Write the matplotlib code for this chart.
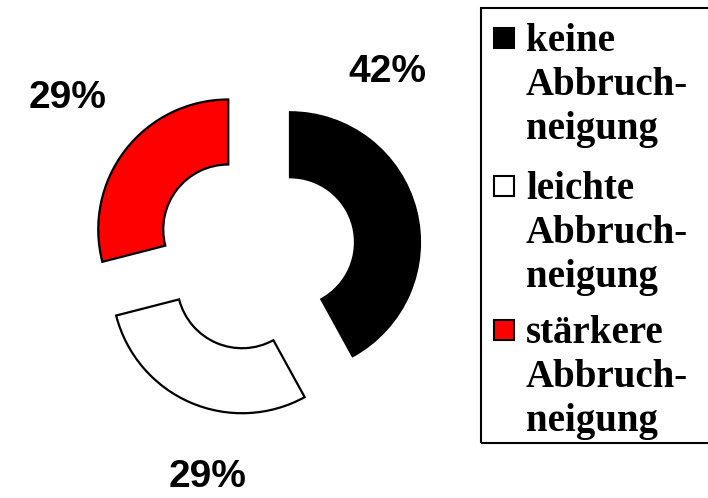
import matplotlib.pyplot as plt
from matplotlib.patches import Rectangle

# Werte aus der Grafik
categories = ['keine\nAbbruch-\nneigung', 'leichte\nAbbruch-\nneigung', 'stärkere\nAbbruch-\nneigung']
values = [42, 29, 29]
colors = ['#000000', '#ffffff', '#ff0000']

fig = plt.figure(figsize=(7.08, 4.98), dpi=100)
ax = fig.add_axes([22 / 708, 13 / 498, 468 / 708, 468 / 498])

wedges, _ = ax.pie(values, colors=colors, startangle=90, counterclock=False,
                   explode=[0.27] * 3,
                   wedgeprops=dict(width=0.5, edgecolor='black', linewidth=1.6))
ax.set_xlim(-1.8, 1.8)
ax.set_ylim(-1.8, 1.8)
ax.set_aspect('equal')
ax.axis('off')

# Prozent-Beschriftungen (manuell platziert wie im Original)
label_pos = [(1.01, 1.38), (-0.37, -1.74), (-1.45, 1.18)]
for v, (x, y) in zip(values, label_pos):
    ax.text(x, y, f'{v}%', ha='center', va='center', fontsize=28,
            fontweight='bold', family='Liberation Sans')

# Legende von Hand gezeichnet (Kästchen neben der ersten Zeile)
fig.patches.append(Rectangle((481 / 708, 55 / 498), 0.5, 435 / 498,
                             transform=fig.transFigure, fill=False,
                             edgecolor='black', linewidth=1.5))
baselines = [51, 199, 343]
line_step = 44
for cat, col, b in zip(categories, colors, baselines):
    fig.patches.append(Rectangle((494 / 708, (498 - b + 3) / 498), 20 / 708, 20 / 498,
                                 transform=fig.transFigure, facecolor=col,
                                 edgecolor='black', linewidth=1.5))
    for i, line in enumerate(cat.split('\n')):
        fig.text(526 / 708, (498 - b - i * line_step) / 498, line, ha='left',
                 va='baseline', fontsize=28, fontweight='bold',
                 family='Liberation Serif')

plt.savefig('out.png', dpi=100)
